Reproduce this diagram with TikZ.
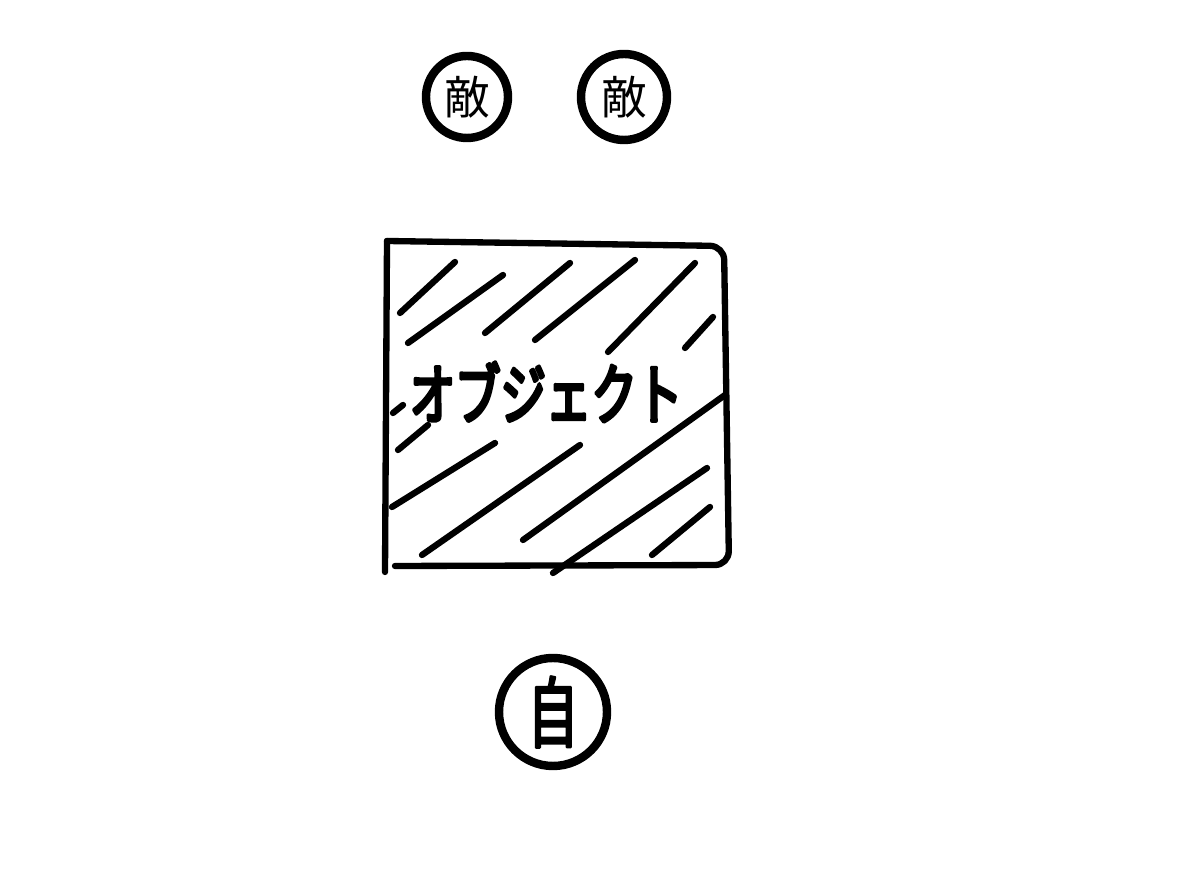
\documentclass[tikz,border=0pt]{standalone}
\usepackage{fontspec}
\usepackage{tikz}
\usetikzlibrary{calc}
\newfontfamily\jp{Noto Sans CJK JP}
\newfontfamily\jpb[FakeBold=5,FakeStretch=0.68]{Noto Sans CJK JP}
\newfontfamily\jpc[FakeBold=3,FakeStretch=0.65]{Noto Sans CJK JP}

\begin{document}
\begin{tikzpicture}[thick,line cap=round,line join=round,
    unit/.style={circle,draw,line width=2.4pt,inner sep=0pt,font=\jp\fontsize{13}{13}\selectfont},
    hatch/.style={line width=1.8pt}]
\useasboundingbox (0,0) rectangle (12,8.89);
%% enemies and player
\node[unit,minimum size=0.82cm] (teki1) at (4.67,7.92) {敵};
\node[unit,minimum size=0.86cm] (teki2) at (6.24,7.92) {敵};
\node[unit,minimum size=1.08cm,font=\jpc\fontsize{22}{22}\selectfont] (ji) at (5.53,1.77) {自};
%% the object
\draw[line width=1.8pt,rounded corners=4pt] (3.87,6.48) -- (7.24,6.43) -- (7.29,3.24) -- (3.95,3.23);
\draw[line width=1.8pt] (3.87,6.48) -- (3.85,3.17);
\foreach \xa/\ya/\xb/\yb in {4.00/5.76/4.55/6.27, 4.08/5.46/5.03/6.14, 4.85/5.56/5.70/6.26,
    5.35/5.49/6.35/6.29, 6.08/5.37/6.95/6.26, 6.85/5.41/7.13/5.72, 3.93/4.76/4.03/4.84,
    3.98/4.39/4.28/4.64, 3.92/3.82/4.95/4.46, 4.22/3.34/5.80/4.44, 5.23/3.49/7.25/4.94,
    5.53/3.16/7.07/4.21, 6.52/3.34/7.10/3.82}
    \draw[hatch] (\xa,\ya) -- (\xb,\yb);
\node[font=\jpb\fontsize{19}{19}\selectfont,inner sep=0pt] (obj) at (5.46,4.97) {オブジェクト};
\end{tikzpicture}
\end{document}
